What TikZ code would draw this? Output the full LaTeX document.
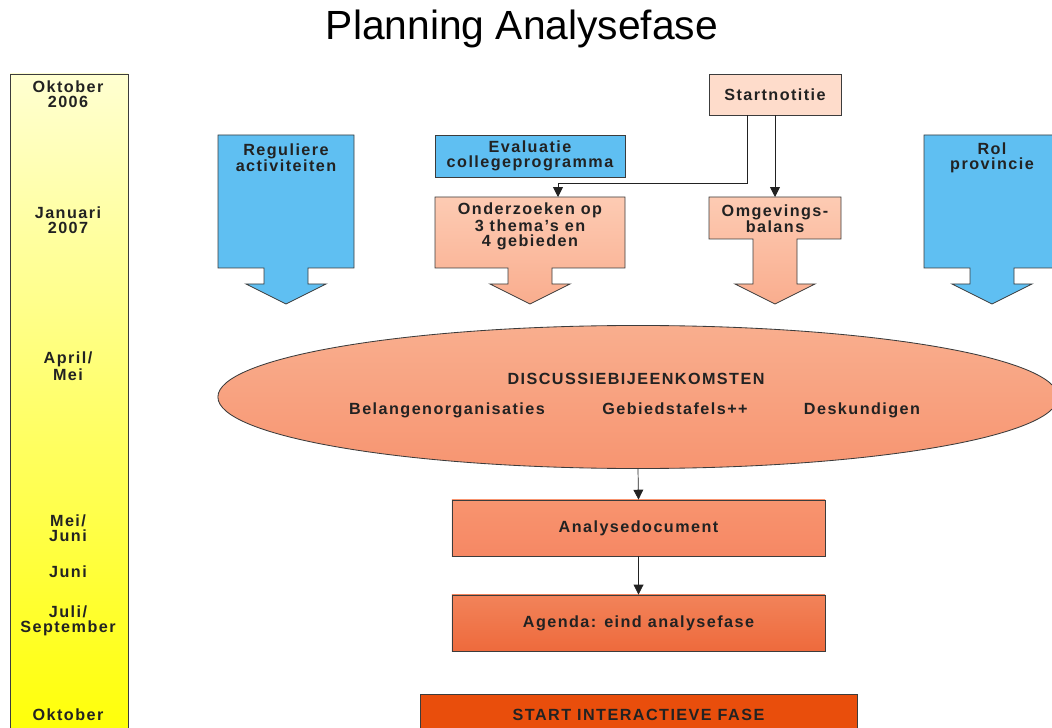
\documentclass[tikz,border=0pt]{standalone}
\usepackage{fontspec}
\setmainfont{Liberation Sans}
\usetikzlibrary{arrows.meta,shapes.geometric}

\definecolor{rand}{HTML}{3C3C3C}
\definecolor{blauw}{HTML}{5FBFF2}
\definecolor{zalmlicht}{HTML}{FDCBB3}
\definecolor{zalm}{HTML}{F9AD8E}
\definecolor{startkleur}{HTML}{FEDCCB}
\definecolor{ovaalboven}{HTML}{F9AE8E}
\definecolor{ovaalonder}{HTML}{F79571}
\definecolor{analyseboven}{HTML}{F8946F}
\definecolor{analyseonder}{HTML}{F68864}
\definecolor{agendaboven}{HTML}{F2835A}
\definecolor{agendaonder}{HTML}{EE6A3C}
\definecolor{oranje}{HTML}{E94E0C}
\definecolor{tekstkleur}{HTML}{222222}

\tikzset{
  omlijning/.style={draw=rand, line width=0.6pt},
  tekst/.style={font=\fontsize{11.5}{10.7}\selectfont\bfseries\addfontfeatures{LetterSpace=9},
    align=center, text=tekstkleur, inner sep=0pt},
  blok/.style={omlijning, rectangle, inner sep=0pt},
  lijnpijl/.style={draw=tekstkleur, line width=0.5pt, -{Triangle[length=7pt,width=7pt]}},
  lijn/.style={draw=tekstkleur, line width=0.5pt},
}

\begin{document}
\begin{tikzpicture}[x=0.025cm,y=-0.025cm]
\useasboundingbox (0,0) rectangle (1052,728);
\clip (0,0) rectangle (1052,728);

% Titel
\node (titel) at (522,29) {\fontsize{29}{32}\selectfont Planning Analysefase};

% Tijdbalk
\path[omlijning, top color=yellow!18, middle color=yellow!45, bottom color=yellow] (10,74) rectangle (128,760);
\node[tekst] (okt06) at (68,94.5) {Oktober\\2006};
\node[tekst] (jan07) at (68,220) {Januari\\2007};
\node[tekst] (april) at (68,366) {April/\\Mei};
\node[tekst] (meijuni) at (68,528.5) {Mei/\\Juni};
\node[tekst] (juni) at (68,572) {Juni};
\node[tekst] (julisept) at (68,621) {Juli/\\September};
\node[tekst] (okt07) at (68,715) {Oktober};

% Blokpijl Reguliere activiteiten
\path[omlijning, fill=blauw] (218,135) -- (354,135) -- (354,268) -- (308,268) -- (308,284)
  -- (326,284) -- (286,304) -- (246,284) -- (264,284) -- (264,268) -- (218,268) -- cycle;
\node[tekst] (regulier) at (286,157.5) {Reguliere\\activiteiten};

% Blokpijl Rol provincie
\path[omlijning, fill=blauw] (924,135) -- (1060,135) -- (1060,268) -- (1014,268) -- (1014,284)
  -- (1032,284) -- (992,304) -- (952,284) -- (970,284) -- (970,268) -- (924,268) -- cycle;
\node[tekst] (rol) at (992,157.5) {Rol\\provincie};

% Evaluatie collegeprogramma
\node[blok, fill=blauw, minimum width=4.75cm, minimum height=1.05cm] (evaluatie) at (530,156) {};
\node[tekst] (evaluatietekst) at (evaluatie) {Evaluatie\\collegeprogramma};

% Startnotitie
\node[blok, fill=startkleur, minimum width=3.3cm, minimum height=1.025cm] (start) at (775,94.5) {};
\node[tekst] (starttekst) at (start) {Startnotitie};

% Blokpijl Onderzoeken
\path[omlijning, top color=zalmlicht, bottom color=zalm] (435,197) -- (625,197) -- (625,268) -- (552,268) -- (552,284)
  -- (570,284) -- (530,304) -- (490,284) -- (508,284) -- (508,268) -- (435,268) -- cycle;
\coordinate (onderzoek) at (530,197);
\node[tekst] (onderzoektekst) at (530,226.5) {Onderzoeken op\\3 thema's en\\4 gebieden};

% Blokpijl Omgevingsbalans
\path[omlijning, top color=zalmlicht, bottom color=zalm] (709,197) -- (841,197) -- (841,239) -- (797,239) -- (797,284)
  -- (815,284) -- (775,304) -- (735,284) -- (753,284) -- (753,239) -- (709,239) -- cycle;
\coordinate (omgeving) at (775,197);
\node[tekst] (omgevingtekst) at (775,218.5) {Omgevings-\\balans};

% Lijnen vanaf Startnotitie
\coordinate (knik) at (558,183);
\draw[lijnpijl] ([xshift=-0.7cm]start.south) |- (knik) -- (knik |- onderzoek);
\draw[lijnpijl] (start.south) -- (omgeving);

% Discussiebijeenkomsten
\node[omlijning, ellipse, inner sep=0pt, minimum width=21cm, minimum height=3.575cm,
  top color=ovaalboven, bottom color=ovaalonder] (discussie) at (638,397) {};
\node[tekst] (discussietekst) at (636,379) {DISCUSSIEBIJEENKOMSTEN};
\node[tekst, anchor=base] (belangen) at (447,414) {Belangenorganisaties};
\node[tekst, anchor=base] (gebied) at (675,414) {Gebiedstafels++};
\node[tekst, anchor=base] (deskundig) at (862,414) {Deskundigen};

% Analysedocument en agenda
\node[blok, top color=analyseboven, bottom color=analyseonder, minimum width=9.325cm, minimum height=1.4cm] (analyse) at (638.5,528) {};
\node[tekst] (analysetekst) at (analyse) {Analysedocument};
\node[blok, top color=agendaboven, bottom color=agendaonder, minimum width=9.325cm, minimum height=1.4cm] (agenda) at (638.5,623) {};
\node[tekst] (agendatekst) at (agenda) {Agenda: eind analysefase};

\draw[lijnpijl] (discussie.south) -- (analyse.north);
\draw[lijnpijl] (analyse.south) -- (agenda.north);

% Start interactieve fase
\node[blok, fill=oranje, minimum width=10.925cm, minimum height=1.05cm] (interactief) at (638.5,715) {};
\node[tekst] (interactieftekst) at (interactief) {START INTERACTIEVE FASE};
\end{tikzpicture}
\end{document}
